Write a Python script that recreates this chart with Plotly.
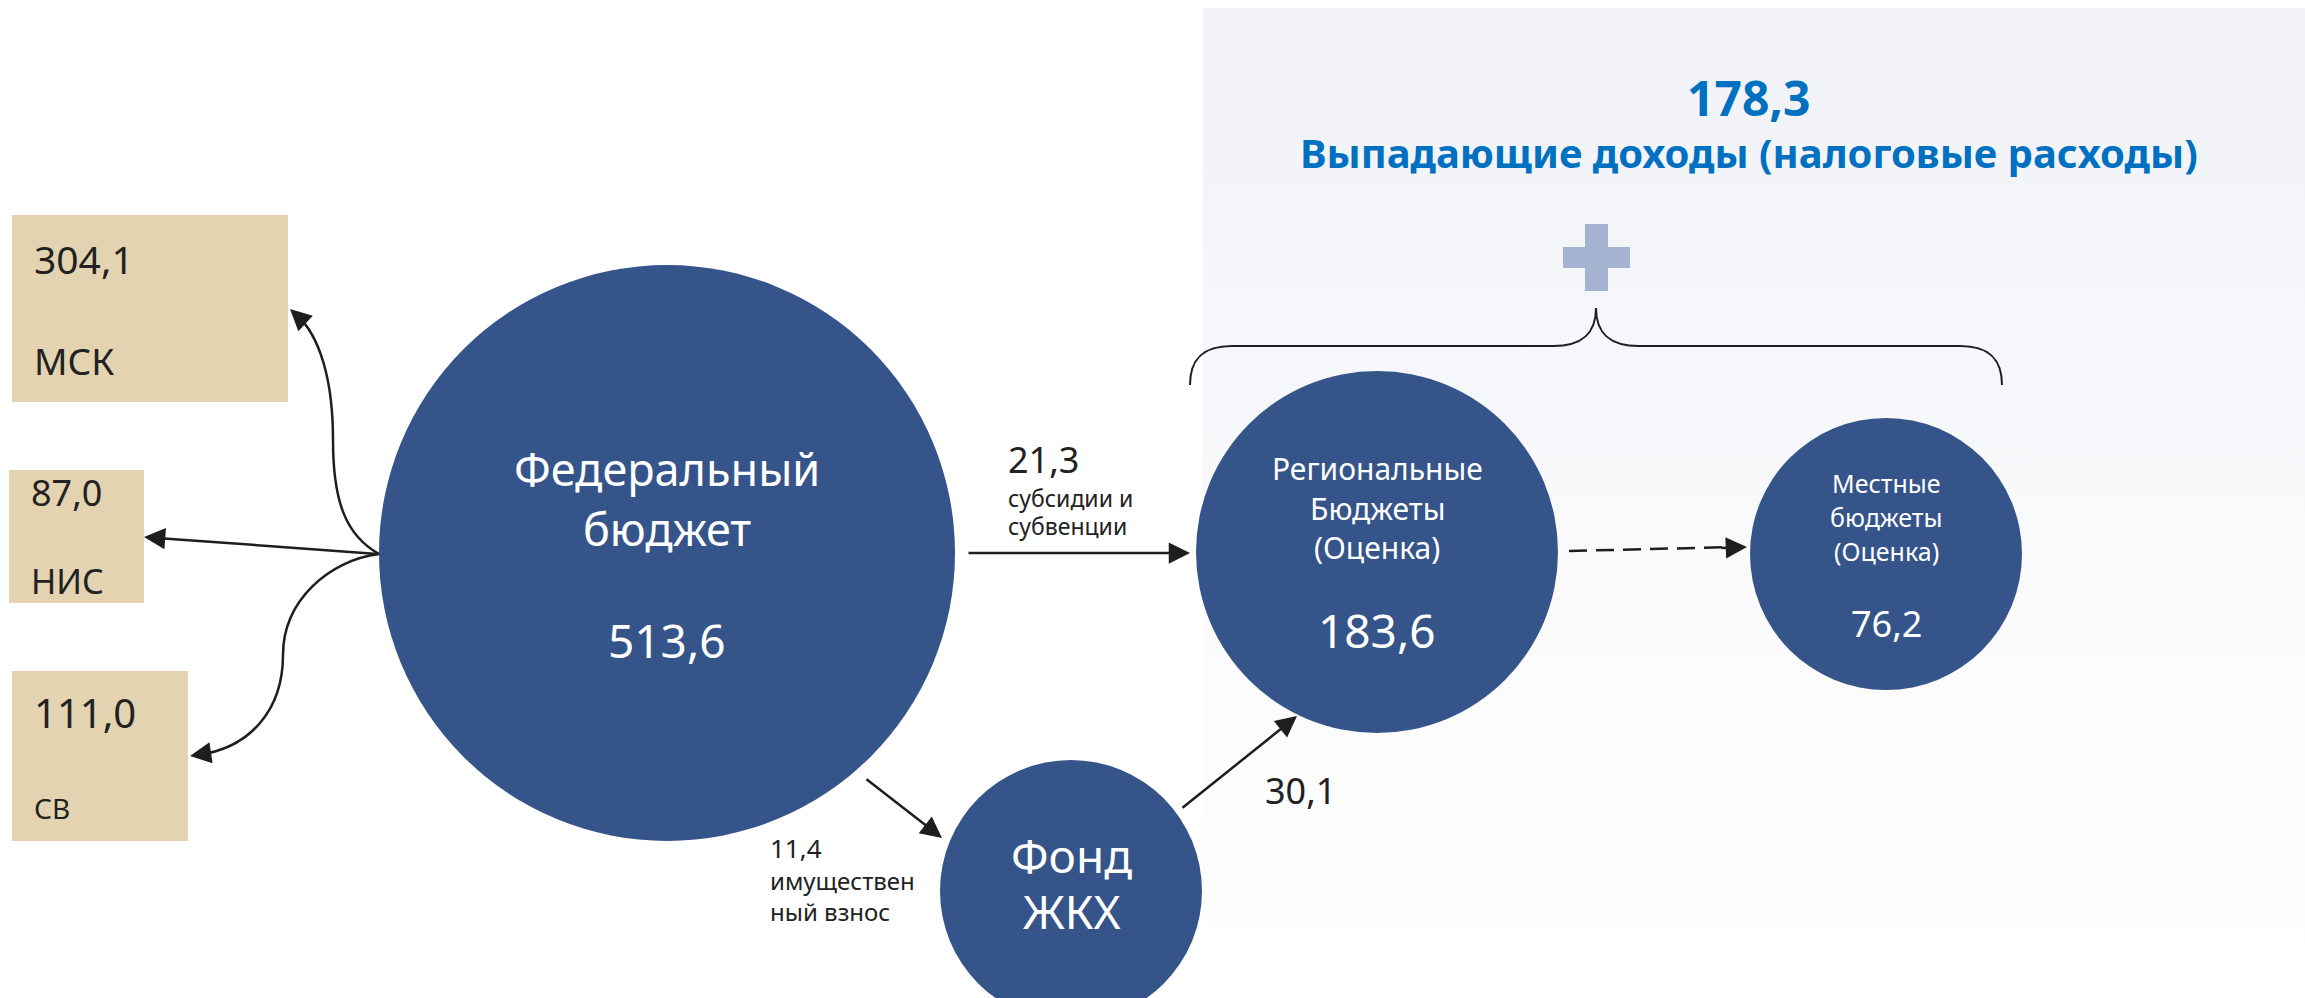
import plotly.graph_objects as go

# ---------------- data ----------------
node_names = ["Федеральный<br>бюджет", "Региональные<br>Бюджеты<br>(Оценка)",
              "Местные<br>бюджеты<br>(Оценка)", "Фонд<br>ЖКХ"]
node_values = [513.6, 183.6, 76.2, None]

box_labels = ["МСК", "НИС", "СВ"]
box_values = [304.1, 87.0, 111.0]

flow_values = [21.3, 11.4, 30.1]
flow_labels = ["субсидии и<br>субвенции", "имуществен<br>ный взнос", ""]

total_value = 178.3
total_label = "Выпадающие доходы (налоговые расходы)"

# ---------------- layout / geometry (pixels) ----------------
W, H = 2305, 998
FONT = "Noto Sans, Open Sans, DejaVu Sans, sans-serif"
CIRCLE = "#35548A"
TAN = "#E3D3B1"
LINE = "#1E1E1E"
BLUE = "#0070C0"

node_geom = [  # cx, cy, r
    (667, 553, 288),
    (1377, 552, 181),
    (1886, 554, 136),
    (1071, 891, 131),
]
node_name_pos = [  # y of each line, font size
    ([468, 528], 45),
    ([468, 508, 547], 30),
    ([483, 517, 551], 25),
    ([855, 911], 46),
]
node_value_pos = [(667, 640, 46), (1377, 630, 46), (1886, 623, 36), None]

box_geom = [(12, 215, 288, 402), (9, 470, 144, 603), (12, 671, 188, 841)]
box_value_pos = [(32, 258, 39), (29, 492, 36), (32, 712, 40)]
box_label_pos = [(32, 360, 37), (29, 581, 34), (32, 808, 28)]

fmt = lambda v: f"{v:.1f}".replace(".", ",")

fig = go.Figure()

# background gradient panel
fig.add_trace(go.Scatter(
    x=[1203, W, W, 1203, 1203], y=[8, 8, H, H, 8], mode="lines",
    line=dict(width=0), fill="toself",
    fillgradient=dict(type="vertical", start=H, stop=8,
                      colorscale=[[0, "#FFFFFF"], [0.3, "#FCFCFD"], [1, "#F0F2F7"]]),
    hoverinfo="skip", showlegend=False))

shapes = []
annotations = []

# boxes
for (x0, y0, x1, y1) in box_geom:
    shapes.append(dict(type="rect", xref="x", yref="y", x0=x0, y0=y0, x1=x1, y1=y1,
                       fillcolor=TAN, line=dict(width=0), layer="below"))
for i, lab in enumerate(box_labels):
    vx, vy, vs = box_value_pos[i]
    lx, ly, ls = box_label_pos[i]
    annotations.append(dict(x=vx, y=vy, text=fmt(box_values[i]), showarrow=False,
                            xanchor="left", yanchor="middle",
                            font=dict(family=FONT, size=vs, color="#222222")))
    annotations.append(dict(x=lx, y=ly, text=lab, showarrow=False,
                            xanchor="left", yanchor="middle",
                            font=dict(family=FONT, size=ls, color="#222222")))

# circles
for (cx, cy, r) in node_geom:
    shapes.append(dict(type="circle", xref="x", yref="y", x0=cx - r, x1=cx + r,
                       y0=cy - r, y1=cy + r, fillcolor=CIRCLE, line=dict(width=0),
                       layer="above"))

for i, name in enumerate(node_names):
    cx = node_geom[i][0]
    ys, fs = node_name_pos[i]
    for line_txt, yy in zip(name.split("<br>"), ys):
        annotations.append(dict(x=cx, y=yy, text=line_txt, showarrow=False,
                                xanchor="center", yanchor="middle",
                                font=dict(family=FONT, size=fs, color="white")))
    if node_values[i] is not None:
        vx, vy, vs = node_value_pos[i]
        annotations.append(dict(x=vx, y=vy, text=fmt(node_values[i]), showarrow=False,
                                xanchor="center", yanchor="middle",
                                font=dict(family=FONT, size=vs, color="white")))

# brace
shapes.append(dict(type="path", xref="x", yref="y",
                   path="M 1190,385 C 1190,362 1200,346 1232,346 L 1553,346 "
                        "C 1582,346 1596,334 1596,308 C 1596,334 1610,346 1639,346 "
                        "L 1960,346 C 1992,346 2002,362 2002,385",
                   line=dict(color=LINE, width=2)))

# plus sign
shapes.append(dict(type="rect", xref="x", yref="y", x0=1585, x1=1608, y0=224, y1=291,
                   fillcolor="#A3B3D1", line=dict(width=0)))
shapes.append(dict(type="rect", xref="x", yref="y", x0=1563, x1=1630, y0=247, y1=268,
                   fillcolor="#A3B3D1", line=dict(width=0)))

# curved arrows (bodies)
shapes.append(dict(type="path", xref="x", yref="y",
                   path="M 379,554 C 345,535 333,500 333,440 C 333,380 320,336 296,314",
                   line=dict(color=LINE, width=2.5)))
shapes.append(dict(type="path", xref="x", yref="y",
                   path="M 379,554 C 330,560 283,600 283,655 C 283,710 250,748 198,755",
                   line=dict(color=LINE, width=2.5)))
# dashed arrow body
shapes.append(dict(type="line", xref="x", yref="y", x0=1569, y0=551, x1=1735, y1=547,
                   line=dict(color=LINE, width=2.5, dash="18px,9px")))


def arrow(x0, y0, x1, y1):
    annotations.append(dict(x=x1, y=y1, ax=x0, ay=y0, xref="x", yref="y",
                            axref="x", ayref="y", text="", showarrow=True,
                            arrowhead=2, arrowsize=1.7, arrowwidth=2.5,
                            arrowcolor=LINE, standoff=0, startstandoff=0))


arrow(304, 322, 290, 309)          # to МСК (head)
arrow(379, 554, 144, 537)          # to НИС
arrow(210, 753, 190, 756)          # to СВ (head)
arrow(967, 553, 1190, 553)         # federal -> regional
arrow(865, 778, 942, 838)          # federal -> fond
arrow(1181, 809, 1297, 716)        # fond -> regional
arrow(1720, 548, 1747, 547)        # regional -> local (head)

# flow labels
flow_pos = [(1006, 459, 36, [498, 526], 23), (768, 848, 26, [880, 911], 24),
            (1263, 790, 36, [], 23)]
for i, v in enumerate(flow_values):
    x, y, s, ys, ls = flow_pos[i]
    annotations.append(dict(x=x, y=y, text=fmt(v), showarrow=False, xanchor="left",
                            yanchor="middle", font=dict(family=FONT, size=s, color="#222222")))
    if flow_labels[i]:
        for txt, yy in zip(flow_labels[i].split("<br>"), ys):
            annotations.append(dict(x=x, y=yy, text=txt, showarrow=False, xanchor="left",
                                    yanchor="middle",
                                    font=dict(family=FONT, size=ls, color="#222222")))

# title
annotations.append(dict(x=1749, y=97, text=f"<b>{fmt(total_value)}</b>", showarrow=False,
                        xanchor="center", yanchor="middle",
                        font=dict(family=FONT, size=48, color=BLUE)))
annotations.append(dict(x=1749, y=152, text=f"<b>{total_label}</b>", showarrow=False,
                        xanchor="center", yanchor="middle",
                        font=dict(family=FONT, size=40, color=BLUE)))

fig.update_layout(
    width=W, height=H, autosize=False,
    margin=dict(l=0, r=0, t=0, b=0),
    paper_bgcolor="white", plot_bgcolor="white",
    xaxis=dict(range=[0, W], visible=False, fixedrange=True),
    yaxis=dict(range=[H, 0], visible=False, fixedrange=True),
    shapes=shapes, annotations=annotations, showlegend=False,
)

fig.write_html("out.html", config={"displayModeBar": False, "staticPlot": True},
               post_script="document.body.style.margin='0';document.body.style.overflow='hidden';")
